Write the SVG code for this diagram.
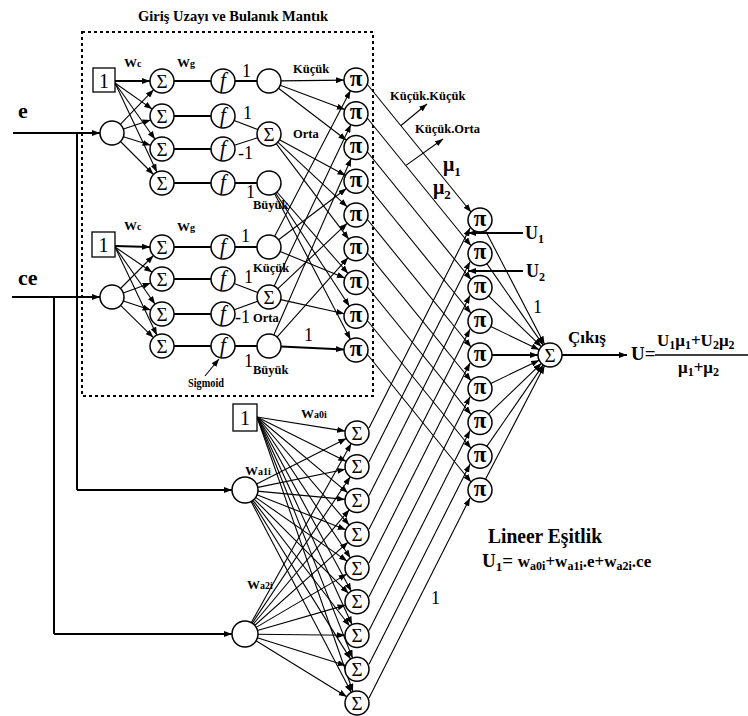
<svg xmlns="http://www.w3.org/2000/svg" width="748" height="716" viewBox="0 0 748 716">
<defs>
<style>
.nd{fill:#fff;stroke:#000;stroke-width:1.5}
.bx{fill:#fff;stroke:#000;stroke-width:1.3}
text{font-family:"Liberation Serif","Times New Roman",serif;fill:#000}
.sig{font-size:19px;text-anchor:middle}
.pi{font-size:23px;font-weight:bold;text-anchor:middle}
.fx{font-size:21px;font-style:italic;text-anchor:middle}
.one{font-size:20px;text-anchor:middle}
.lb{font-size:12.5px;font-weight:bold}
.num{font-size:18px}
.b{font-weight:bold}
#connectors line{stroke:#000;fill:none}
.t{stroke-width:1.1}
.k{stroke-width:2}
.a{marker-end:url(#ah)}
</style>
<marker id="ah" markerUnits="userSpaceOnUse" markerWidth="8" markerHeight="6" refX="8" refY="3" orient="auto"><path d="M0,0 L8,3 L0,6 z" fill="#000"/></marker>
</defs>
<rect width="748" height="716" fill="#fff"/>

<g id="fuzzy-box">
<rect x="82" y="32" width="291" height="364" fill="none" stroke="#000" stroke-width="2" stroke-dasharray="3,3"/>
<text x="138" y="21" class="b" font-size="15" textLength="190" lengthAdjust="spacingAndGlyphs">Giriş Uzayı ve Bulanık Mantık</text>
</g>

<g id="connectors">
<line class="k a" x1="13" y1="133" x2="100" y2="133"/>
<line class="k" x1="77" y1="133" x2="77" y2="490"/>
<line class="k a" x1="77" y1="490" x2="232" y2="490"/>
<line class="k a" x1="12" y1="297" x2="100" y2="297"/>
<line class="k" x1="54" y1="297" x2="54" y2="634"/>
<line class="k a" x1="54" y1="634" x2="232" y2="634"/>
<line class="k a" x1="115" y1="81" x2="150" y2="81"/>
<line class="t a" x1="115" y1="83" x2="152.2" y2="109.1"/>
<line class="t a" x1="115" y1="83" x2="155" y2="139.2"/>
<line class="t a" x1="115" y1="83" x2="156.9" y2="172.1"/>
<line class="t a" x1="120.3" y1="124.3" x2="153.7" y2="89.7"/>
<line class="t a" x1="123.4" y1="129.1" x2="150.6" y2="119.9"/>
<line class="t a" x1="123.4" y1="136.7" x2="150.6" y2="145.3"/>
<line class="t a" x1="120.5" y1="141.5" x2="153.5" y2="174.5"/>
<line class="k" x1="174" y1="81" x2="211" y2="81"/>
<line class="k" x1="174" y1="116" x2="211" y2="116"/>
<line class="k" x1="174" y1="149" x2="211" y2="149"/>
<line class="k" x1="174" y1="183" x2="211" y2="183"/>
<line class="k" x1="235" y1="81" x2="257" y2="81"/>
<line class="t" x1="234.2" y1="120.4" x2="257.8" y2="129.6"/>
<line class="t" x1="234.4" y1="145.3" x2="257.6" y2="137.7"/>
<line class="k" x1="235" y1="183" x2="257" y2="183"/>
<line class="k a" x1="115" y1="246" x2="150" y2="247"/>
<line class="t a" x1="115" y1="247" x2="152.1" y2="272.3"/>
<line class="t a" x1="115" y1="247" x2="155.1" y2="304.2"/>
<line class="t a" x1="115" y1="247" x2="156.9" y2="335.2"/>
<line class="t a" x1="120.5" y1="288.5" x2="153.5" y2="255.5"/>
<line class="t a" x1="123.3" y1="292.9" x2="150.7" y2="283.1"/>
<line class="t a" x1="123.4" y1="300.9" x2="150.6" y2="310.1"/>
<line class="t a" x1="120.6" y1="305.4" x2="153.4" y2="337.6"/>
<line class="k" x1="174" y1="247" x2="211" y2="247"/>
<line class="k" x1="174" y1="279" x2="211" y2="279"/>
<line class="k" x1="174" y1="314" x2="211" y2="314"/>
<line class="k" x1="174" y1="346" x2="211" y2="346"/>
<line class="k" x1="235" y1="247" x2="257" y2="247"/>
<line class="t" x1="234.2" y1="283.4" x2="257.8" y2="292.6"/>
<line class="t" x1="234.3" y1="309.8" x2="257.7" y2="301.2"/>
<line class="k" x1="235" y1="346" x2="257" y2="346"/>
<line class="t a" x1="205" y1="376" x2="219" y2="359"/>
<line class="t a" x1="281" y1="80.9" x2="344" y2="80.1"/>
<line class="t a" x1="280.2" y1="85.2" x2="344.8" y2="109.5"/>
<line class="t a" x1="278.5" y1="88.3" x2="346.5" y2="140.2"/>
<line class="t a" x1="279.5" y1="139.7" x2="345.5" y2="175.5"/>
<line class="t a" x1="277.8" y1="142.2" x2="347.2" y2="206.8"/>
<line class="t a" x1="276.2" y1="143.6" x2="348.8" y2="239.2"/>
<line class="t a" x1="276.9" y1="192" x2="348.1" y2="273.5"/>
<line class="t a" x1="275.6" y1="193" x2="349.4" y2="306.2"/>
<line class="t a" x1="274.5" y1="193.6" x2="350.5" y2="339.4"/>
<line class="t a" x1="274.5" y1="236.4" x2="350.5" y2="90.6"/>
<line class="t a" x1="278.6" y1="239.8" x2="346.4" y2="188.5"/>
<line class="t a" x1="280.1" y1="251.5" x2="344.9" y2="278"/>
<line class="t a" x1="274.1" y1="286.2" x2="350.9" y2="124.6"/>
<line class="t a" x1="277.7" y1="288.8" x2="347.3" y2="223.2"/>
<line class="t a" x1="280.7" y1="299.6" x2="344.3" y2="313.7"/>
<line class="t a" x1="273.8" y1="335" x2="351.2" y2="158.5"/>
<line class="t a" x1="277" y1="337.1" x2="348" y2="257.7"/>
<line class="k a" x1="281" y1="346.6" x2="344" y2="349.4"/>
<line class="t a" x1="367" y1="84" x2="471" y2="212"/>
<line class="t a" x1="367" y1="117.75" x2="471" y2="245.75"/>
<line class="t a" x1="367" y1="151.5" x2="471" y2="279.5"/>
<line class="t a" x1="367" y1="185.25" x2="471" y2="313.25"/>
<line class="t a" x1="367" y1="219" x2="471" y2="347"/>
<line class="t a" x1="367" y1="252.75" x2="471" y2="380.75"/>
<line class="t a" x1="367" y1="286.5" x2="471" y2="414.5"/>
<line class="t a" x1="367" y1="320.25" x2="471" y2="448.25"/>
<line class="t a" x1="367" y1="354" x2="471" y2="482"/>
<line class="t a" x1="401" y1="125.5" x2="427" y2="104"/>
<line class="t a" x1="406" y1="165.4" x2="443" y2="139"/>
<line class="t a" x1="257" y1="417" x2="345.2" y2="431.1"/>
<line class="t a" x1="257" y1="417" x2="346.3" y2="461.4"/>
<line class="t a" x1="257" y1="417" x2="347.8" y2="492.8"/>
<line class="t a" x1="257" y1="417" x2="349.2" y2="525.1"/>
<line class="t a" x1="257" y1="417" x2="350.4" y2="558"/>
<line class="t a" x1="257" y1="417" x2="351.3" y2="591.2"/>
<line class="t a" x1="257" y1="417" x2="352" y2="624.6"/>
<line class="t a" x1="257" y1="417" x2="352.6" y2="658.1"/>
<line class="t a" x1="257" y1="417" x2="353" y2="691.7"/>
<line class="t a" x1="255.7" y1="484.6" x2="346.3" y2="438.4"/>
<line class="t a" x1="256.7" y1="487.6" x2="345.3" y2="469.2"/>
<line class="t a" x1="257" y1="491.1" x2="345" y2="499.4"/>
<line class="t a" x1="256.2" y1="494.4" x2="345.8" y2="529.8"/>
<line class="t a" x1="254.9" y1="496.9" x2="347.1" y2="561.1"/>
<line class="t a" x1="253.5" y1="498.5" x2="348.5" y2="593.3"/>
<line class="t a" x1="252.3" y1="499.5" x2="349.7" y2="626"/>
<line class="t a" x1="251.4" y1="500.2" x2="350.6" y2="659.1"/>
<line class="t a" x1="250.6" y1="500.6" x2="351.4" y2="692.4"/>
<line class="t a" x1="250.8" y1="623.5" x2="351.2" y2="443.5"/>
<line class="t a" x1="251.7" y1="624" x2="350.3" y2="476.8"/>
<line class="t a" x1="252.7" y1="624.8" x2="349.3" y2="509.7"/>
<line class="t a" x1="254" y1="626" x2="348" y2="542.2"/>
<line class="t a" x1="255.3" y1="627.9" x2="346.7" y2="574.1"/>
<line class="t a" x1="256.5" y1="630.7" x2="345.5" y2="605.1"/>
<line class="t a" x1="257" y1="634.2" x2="345" y2="635.3"/>
<line class="t a" x1="256.4" y1="637.6" x2="345.6" y2="665.6"/>
<line class="t a" x1="255.2" y1="640.3" x2="346.8" y2="696.7"/>
<line class="t a" x1="369" y1="428" x2="470" y2="228"/>
<line class="t a" x1="369" y1="461.75" x2="470" y2="261.75"/>
<line class="t a" x1="369" y1="495.5" x2="470" y2="295.5"/>
<line class="t a" x1="369" y1="529.25" x2="470" y2="329.25"/>
<line class="t a" x1="369" y1="563" x2="470" y2="363"/>
<line class="t a" x1="369" y1="596.75" x2="470" y2="396.75"/>
<line class="t a" x1="369" y1="630.5" x2="470" y2="430.5"/>
<line class="t a" x1="369" y1="664.25" x2="470" y2="464.25"/>
<line class="t a" x1="369" y1="698" x2="470" y2="498"/>
<line class="k a" x1="523" y1="233" x2="468" y2="233"/>
<line class="k a" x1="523" y1="271" x2="468" y2="271"/>
<line class="t a" x1="485.5" y1="230.7" x2="544.5" y2="344.3"/>
<line class="t a" x1="486.8" y1="263.6" x2="543.2" y2="345.1"/>
<line class="t a" x1="488.6" y1="295.8" x2="541.4" y2="346.7"/>
<line class="t a" x1="490.8" y1="326.5" x2="539.2" y2="349.8"/>
<line class="k a" x1="492" y1="355" x2="538" y2="355"/>
<line class="t a" x1="490.8" y1="383.5" x2="539.2" y2="360.2"/>
<line class="t a" x1="488.6" y1="414.2" x2="541.4" y2="363.3"/>
<line class="t a" x1="486.8" y1="446.4" x2="543.2" y2="364.9"/>
<line class="t a" x1="485.5" y1="479.3" x2="544.5" y2="365.7"/>
<line class="k a" x1="562" y1="355" x2="627" y2="355"/>
</g>

<g id="in-e"><text x="18" y="118" class="b" font-size="22">e</text><circle class="nd" cx="112" cy="133" r="12"/></g>
<g id="in-ce"><text x="18" y="285" class="b" font-size="22">ce</text><circle class="nd" cx="112" cy="297" r="12"/></g>

<g id="b1-bias"><rect class="bx" x="93" y="68" width="22" height="24"/><text class="one" x="104" y="88">1</text></g>
<g id="b1-s1"><circle class="nd" cx="162" cy="81" r="12"/><text class="sig" x="162" y="87.5">Σ</text></g>
<g id="b1-s2"><circle class="nd" cx="162" cy="116" r="12"/><text class="sig" x="162" y="122.5">Σ</text></g>
<g id="b1-s3"><circle class="nd" cx="162" cy="149" r="12"/><text class="sig" x="162" y="155.5">Σ</text></g>
<g id="b1-s4"><circle class="nd" cx="162" cy="183" r="12"/><text class="sig" x="162" y="189.5">Σ</text></g>
<g id="b1-f1"><circle class="nd" cx="223" cy="81" r="12"/><text class="fx" x="223" y="87">f</text></g>
<g id="b1-f2"><circle class="nd" cx="223" cy="116" r="12"/><text class="fx" x="223" y="122">f</text></g>
<g id="b1-f3"><circle class="nd" cx="223" cy="149" r="12"/><text class="fx" x="223" y="155">f</text></g>
<g id="b1-f4"><circle class="nd" cx="223" cy="183" r="12"/><text class="fx" x="223" y="189">f</text></g>
<g id="e-kucuk"><circle class="nd" cx="269" cy="81" r="12"/><text class="lb" x="293" y="73">Küçük</text></g>
<g id="e-orta"><circle class="nd" cx="269" cy="134" r="12"/><text class="sig" x="269" y="140.5">Σ</text><text class="lb" x="293" y="138">Orta</text></g>
<g id="e-buyuk"><circle class="nd" cx="269" cy="183" r="12"/><text class="lb" x="253" y="209">Büyük</text></g>
<g id="b1-labels">
<text x="124" y="67" class="b" font-size="13">W<tspan font-size="10">c</tspan></text>
<text x="177" y="67" class="b" font-size="13">W<tspan font-size="10">g</tspan></text>
<text class="num" x="242" y="77">1</text>
<text class="num" x="243" y="119">1</text>
<text class="num" x="238" y="159">-1</text>
<text class="num" x="246" y="198">1</text>
</g>

<g id="b2-bias"><rect class="bx" x="92" y="232" width="23" height="25"/><text class="one" x="103.5" y="252">1</text></g>
<g id="b2-s1"><circle class="nd" cx="162" cy="247" r="12"/><text class="sig" x="162" y="253.5">Σ</text></g>
<g id="b2-s2"><circle class="nd" cx="162" cy="279" r="12"/><text class="sig" x="162" y="285.5">Σ</text></g>
<g id="b2-s3"><circle class="nd" cx="162" cy="314" r="12"/><text class="sig" x="162" y="320.5">Σ</text></g>
<g id="b2-s4"><circle class="nd" cx="162" cy="346" r="12"/><text class="sig" x="162" y="352.5">Σ</text></g>
<g id="b2-f1"><circle class="nd" cx="223" cy="247" r="12"/><text class="fx" x="223" y="253">f</text></g>
<g id="b2-f2"><circle class="nd" cx="223" cy="279" r="12"/><text class="fx" x="223" y="285">f</text></g>
<g id="b2-f3"><circle class="nd" cx="223" cy="314" r="12"/><text class="fx" x="223" y="320">f</text></g>
<g id="b2-f4"><circle class="nd" cx="223" cy="346" r="12"/><text class="fx" x="223" y="352">f</text></g>
<g id="ce-kucuk"><circle class="nd" cx="269" cy="247" r="12"/><text class="lb" x="253" y="272">Küçük</text></g>
<g id="ce-orta"><circle class="nd" cx="269" cy="297" r="12"/><text class="sig" x="269" y="303.5">Σ</text><text class="lb" x="253" y="322">Orta</text></g>
<g id="ce-buyuk"><circle class="nd" cx="269" cy="346" r="12"/><text class="lb" x="253" y="374">Büyük</text></g>
<g id="b2-labels">
<text x="124" y="230" class="b" font-size="13">W<tspan font-size="10">c</tspan></text>
<text x="177" y="231" class="b" font-size="13">W<tspan font-size="10">g</tspan></text>
<text class="num" x="241" y="242">1</text>
<text class="num" x="244" y="283">1</text>
<text class="num" x="235" y="323">-1</text>
<text class="num" x="244" y="367">1</text>
<text class="num" x="304" y="341">1</text>
<text class="lb" x="188" y="387" textLength="36" lengthAdjust="spacingAndGlyphs">Sigmoid</text>
</g>

<g id="r1"><circle class="nd" cx="356" cy="80" r="12"/><text class="pi" x="356" y="85.5">π</text></g>
<g id="r2"><circle class="nd" cx="356" cy="113.75" r="12"/><text class="pi" x="356" y="119.25">π</text></g>
<g id="r3"><circle class="nd" cx="356" cy="147.5" r="12"/><text class="pi" x="356" y="153">π</text></g>
<g id="r4"><circle class="nd" cx="356" cy="181.25" r="12"/><text class="pi" x="356" y="186.75">π</text></g>
<g id="r5"><circle class="nd" cx="356" cy="215" r="12"/><text class="pi" x="356" y="220.5">π</text></g>
<g id="r6"><circle class="nd" cx="356" cy="248.75" r="12"/><text class="pi" x="356" y="254.25">π</text></g>
<g id="r7"><circle class="nd" cx="356" cy="282.5" r="12"/><text class="pi" x="356" y="288">π</text></g>
<g id="r8"><circle class="nd" cx="356" cy="316.25" r="12"/><text class="pi" x="356" y="321.75">π</text></g>
<g id="r9"><circle class="nd" cx="356" cy="350" r="12"/><text class="pi" x="356" y="355.5">π</text></g>

<g id="rule-labels">
<text class="lb" x="390" y="100">Küçük.Küçük</text>
<text class="lb" x="415" y="133">Küçük.Orta</text>
<text x="443" y="171" class="b" font-size="20">μ<tspan font-size="13" dy="5">1</tspan></text>
<text x="433" y="194" class="b" font-size="20">μ<tspan font-size="13" dy="5">2</tspan></text>
</g>

<g id="p1"><circle class="nd" cx="480" cy="220" r="12"/><text class="pi" x="480" y="225.5">π</text></g>
<g id="p2"><circle class="nd" cx="480" cy="253.75" r="12"/><text class="pi" x="480" y="259.25">π</text></g>
<g id="p3"><circle class="nd" cx="480" cy="287.5" r="12"/><text class="pi" x="480" y="293">π</text></g>
<g id="p4"><circle class="nd" cx="480" cy="321.25" r="12"/><text class="pi" x="480" y="326.75">π</text></g>
<g id="p5"><circle class="nd" cx="480" cy="355" r="12"/><text class="pi" x="480" y="360.5">π</text></g>
<g id="p6"><circle class="nd" cx="480" cy="388.75" r="12"/><text class="pi" x="480" y="394.25">π</text></g>
<g id="p7"><circle class="nd" cx="480" cy="422.5" r="12"/><text class="pi" x="480" y="428">π</text></g>
<g id="p8"><circle class="nd" cx="480" cy="456.25" r="12"/><text class="pi" x="480" y="461.75">π</text></g>
<g id="p9"><circle class="nd" cx="480" cy="490" r="12"/><text class="pi" x="480" y="495.5">π</text></g>

<g id="u-labels">
<text x="525" y="239" class="b" font-size="18">U<tspan font-size="12" dy="4">1</tspan></text>
<text x="526" y="277" class="b" font-size="18">U<tspan font-size="12" dy="4">2</tspan></text>
<text class="num" x="533" y="313">1</text>
</g>

<g id="out-sum"><circle class="nd" cx="550" cy="355" r="12"/><text class="sig" x="550" y="361.5">Σ</text></g>
<g id="out-labels">
<text x="568" y="343" class="b" font-size="17">Çıkış</text>
<text x="631" y="360" class="b" font-size="19">U=</text>
<line x1="655" y1="355" x2="748" y2="355" stroke="#000" stroke-width="1.5"/>
<text x="657" y="346" class="b" font-size="17">U<tspan font-size="12" dy="3">1</tspan><tspan dy="-3">μ</tspan><tspan font-size="12" dy="3">1</tspan><tspan dy="-3">+U</tspan><tspan font-size="12" dy="3">2</tspan><tspan dy="-3">μ</tspan><tspan font-size="12" dy="3">2</tspan></text>
<text x="678" y="373" class="b" font-size="17">μ<tspan font-size="12" dy="3">1</tspan><tspan dy="-3">+μ</tspan><tspan font-size="12" dy="3">2</tspan></text>
</g>

<g id="lin-bias"><rect class="bx" x="233" y="404" width="24" height="27"/><text class="one" x="245" y="425">1</text></g>
<g id="lin-e"><circle class="nd" cx="245" cy="490" r="13"/></g>
<g id="lin-ce"><circle class="nd" cx="245" cy="634" r="13"/></g>
<g id="lin-labels">
<text x="301" y="418" class="b" font-size="13">W<tspan font-size="10">a0i</tspan></text>
<text x="245" y="475" class="b" font-size="13">W<tspan font-size="10">a1i</tspan></text>
<text x="247" y="589" class="b" font-size="13">W<tspan font-size="10">a2i</tspan></text>
<text class="num" x="431" y="604">1</text>
</g>
<g id="l1"><circle class="nd" cx="357" cy="433" r="12"/><text class="sig" x="357" y="439.5">Σ</text></g>
<g id="l2"><circle class="nd" cx="357" cy="466.75" r="12"/><text class="sig" x="357" y="473.25">Σ</text></g>
<g id="l3"><circle class="nd" cx="357" cy="500.5" r="12"/><text class="sig" x="357" y="507">Σ</text></g>
<g id="l4"><circle class="nd" cx="357" cy="534.25" r="12"/><text class="sig" x="357" y="540.75">Σ</text></g>
<g id="l5"><circle class="nd" cx="357" cy="568" r="12"/><text class="sig" x="357" y="574.5">Σ</text></g>
<g id="l6"><circle class="nd" cx="357" cy="601.75" r="12"/><text class="sig" x="357" y="608.25">Σ</text></g>
<g id="l7"><circle class="nd" cx="357" cy="635.5" r="12"/><text class="sig" x="357" y="642">Σ</text></g>
<g id="l8"><circle class="nd" cx="357" cy="669.25" r="12"/><text class="sig" x="357" y="675.75">Σ</text></g>
<g id="l9"><circle class="nd" cx="357" cy="703" r="12"/><text class="sig" x="357" y="709.5">Σ</text></g>

<g id="linear-eq">
<text x="488" y="543" class="b" font-size="20" textLength="114" lengthAdjust="spacingAndGlyphs">Lineer Eşitlik</text>
<text x="482" y="567" class="b" font-size="19">U<tspan font-size="13" dy="4">1</tspan><tspan dy="-4">= </tspan><tspan font-size="17">w</tspan><tspan font-size="12" dy="3">a0i</tspan><tspan font-size="17" dy="-3">+w</tspan><tspan font-size="12" dy="3">a1i</tspan><tspan font-size="17" dy="-3">.e+w</tspan><tspan font-size="12" dy="3">a2i</tspan><tspan font-size="17" dy="-3">.ce</tspan></text>
</g>
</svg>
